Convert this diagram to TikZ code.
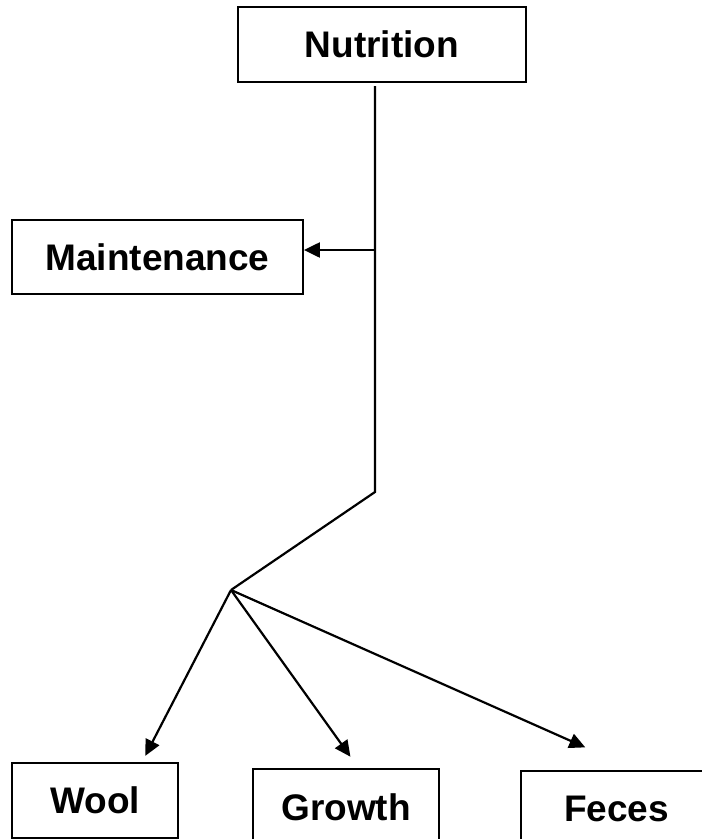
\documentclass[tikz,border=0pt]{standalone}
\usepackage{fontspec}
\setmainfont{Liberation Sans}
\usetikzlibrary{arrows.meta}

\tikzset{
  box/.style={draw,line width=1.8pt,inner sep=0pt,font=\fontsize{37}{44}\selectfont\bfseries},
  arr/.style={line width=2.2pt,-{Triangle[length=16pt,width=15pt]}},
  ln/.style={line width=2.2pt}
}

\begin{document}
\begin{tikzpicture}[x=1pt,y=-1pt]
    \useasboundingbox(0,0)rectangle(702,839);

    \node[box,minimum width=288pt,minimum height=75pt](nut)at(382,44.5){Nutrition};
    \node[box,minimum width=291pt,minimum height=74pt](maint)at(157.5,257){Maintenance};
    \node[box,minimum width=166pt,minimum height=75pt](wool)at(95,800.5){Wool};
    \node[box,minimum width=186pt,minimum height=76pt](growth)at(346,807){Growth};
    \node[box,minimum width=191pt,minimum height=76pt](feces)at(616.5,809){Feces};

    \coordinate(top)at(375,86);
    \coordinate(tap)at(375,250);
    \coordinate(bend)at(375,492);
    \coordinate(split)at(231,590);

    \draw[ln](top)--(bend)--(split);
    \draw[arr](tap)--(tap-|maint.east);
    \draw[arr,shorten >=7pt](split)--([xshift=47pt]wool.north);
    \draw[arr,shorten >=14pt](split)--([xshift=12.6pt]growth.north);
    \draw[arr,shorten >=56pt](split)--([xshift=20pt]feces.north);
\end{tikzpicture}
\end{document}
